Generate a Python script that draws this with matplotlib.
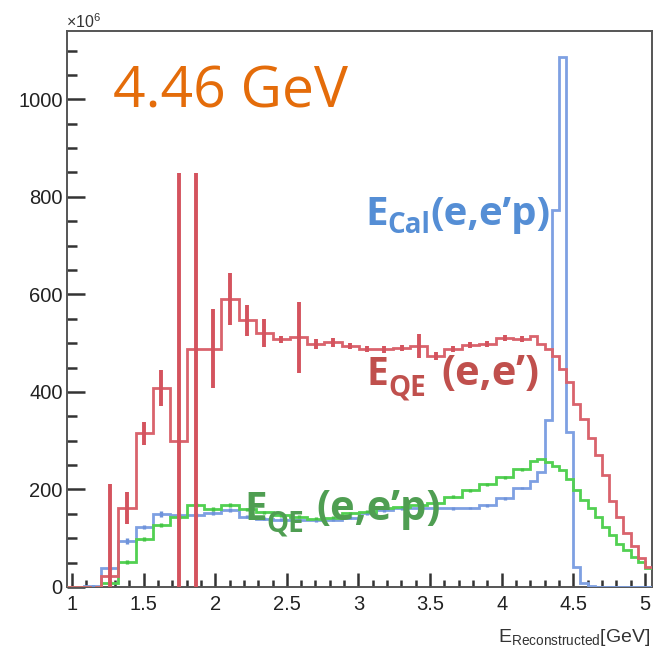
import numpy as np
import matplotlib
matplotlib.use("Agg")
import matplotlib.pyplot as plt
from matplotlib.ticker import MultipleLocator

plt.rcParams['font.family'] = ['Liberation Sans', 'DejaVu Sans']
plt.rcParams['mathtext.fontset'] = 'custom'
plt.rcParams['mathtext.rm'] = 'Liberation Sans'
plt.rcParams['mathtext.it'] = 'Liberation Sans'

# ---------------- data ----------------
# variable binning: coarse bins up to 4.2 GeV, fine 0.05 GeV bins above
coarse_edges = np.linspace(0.965, 4.2, 28)
fine_edges = np.linspace(4.2, 5.05, 18)
edges = np.concatenate([coarse_edges, fine_edges[1:]])

red_coarse = [0, 0, 22, 162, 315, 408, 300, 489, 489, 590, 547, 521, 508, 512,
              498, 502, 494, 488, 487, 490, 494, 473, 488, 496, 499, 510, 509]
red_fine = [514, 499, 487, 473, 447, 420, 375, 345, 305, 270, 230, 176, 144,
            110, 84, 60, 42]
red_err_lo = [0, 0, 22, 33, 23, 37, 300, 489, 80, 53, 32, 29, 7, 73, 10, 9, 7,
              7, 7, 7, 24, 8, 7, 6, 6, 6, 6]
red_err_hi = [0, 0, 190, 33, 23, 37, 549, 360, 80, 53, 32, 29, 7, 73, 10, 9, 7,
              7, 7, 7, 24, 8, 7, 6, 6, 6, 6]

blue_coarse = [0, 3, 38, 95, 123, 150, 147, 147, 152, 158, 144, 140, 138, 137,
               137, 138, 142, 151, 157, 161, 161, 161, 161, 162, 168, 182, 203]
blue_fine = [218, 235, 342, 773, 1087, 318, 41, 8, 3, 1, 1, 0, 0, 0, 0, 0, 0]
blue_err = [0, 2, 4, 6, 5, 6, 4, 4, 4, 4, 3, 3, 3, 3, 3, 3, 3, 3, 3, 3, 3, 3,
            3, 3, 3, 3, 3]

green_coarse = [0, 0, 8, 51, 99, 127, 144, 168, 160, 169, 159, 153, 147, 144,
                140, 142, 151, 154, 163, 164, 168, 172, 185, 198, 211, 225, 241]
green_fine = [258, 262, 256, 248, 239, 222, 198, 179, 161, 144, 123, 106, 89,
              75, 62, 51, 38]
green_err = [0, 0, 4, 4, 4, 4, 4, 4, 4, 4, 3, 3, 3, 3, 3, 3, 3, 3, 3, 3, 3, 3,
             3, 3, 3, 3, 3]

red_vals = np.array(red_coarse + red_fine, dtype=float)
blue_vals = np.array(blue_coarse + blue_fine, dtype=float)
green_vals = np.array(green_coarse + green_fine, dtype=float)
centers = 0.5 * (coarse_edges[:-1] + coarse_edges[1:])

# ---------------- figure ----------------
W, H = 656, 647
fig = plt.figure(figsize=(W / 100, H / 100), dpi=100)
ax = fig.add_axes([67 / W, 1 - 587 / H, 585 / W, 556 / H])

RED_L = '#D9636D'
RED_E = '#D4535E'
BLUE_L = '#7EA0E2'
GREEN_L = '#52D052'

ax.stairs(blue_vals, edges, baseline=None, color=BLUE_L, lw=2.0, zorder=3)
ax.stairs(green_vals, edges, baseline=None, color=GREEN_L, lw=2.0, zorder=3)
ax.stairs(red_vals, edges, baseline=None, color=RED_L, lw=2.0, zorder=4)

def ebar(vals, lo, hi, color, lw):
    v = np.array(vals, dtype=float)
    lo = np.array(lo, dtype=float)
    hi = np.array(hi, dtype=float)
    m = (lo + hi) > 0
    ax.errorbar(centers[m], v[m], yerr=[lo[m], hi[m]], fmt='none',
                ecolor=color, elinewidth=lw, capsize=0, zorder=5)

ebar(blue_coarse, blue_err, blue_err, '#6F93DA', 2.4)
ebar(green_coarse, green_err, green_err, '#45C545', 2.4)
ebar(red_coarse, red_err_lo, red_err_hi, RED_E, 2.8)

ax.set_xlim(0.965, 5.05)
ax.set_ylim(0, 1140)
ax.xaxis.set_minor_locator(MultipleLocator(0.1))
ax.yaxis.set_minor_locator(MultipleLocator(50))
ax.set_xticks([1, 1.5, 2, 2.5, 3, 3.5, 4, 4.5, 5])
ax.set_xticklabels(['1', '1.5', '2', '2.5', '3', '3.5', '4', '4.5', '5'])
ax.set_yticks([0, 200, 400, 600, 800, 1000])
ax.set_yticklabels(['0', '200', '400', '600', '800', '1000'])

ax.tick_params(axis='both', which='both', direction='in', top=False,
               right=False, color='#333333', width=1.8, labelsize=14.5,
               labelcolor='#222222')
ax.tick_params(axis='y', which='major', length=13, pad=3)
ax.tick_params(axis='y', which='minor', length=7)
ax.tick_params(axis='x', which='major', length=10, pad=6)
ax.tick_params(axis='x', which='minor', length=5)
for sp in ax.spines.values():
    sp.set_color('#555555')
    sp.set_linewidth(1.4)

# axis decorations
fig.text(66 / W, 1 - 28 / H, r'$\times10^{6}$', fontsize=11.5,
         color='#333333', ha='left', va='baseline')
fig.text(650 / W, 1 - 642 / H, r'E$_{\rm Reconstructed}$[GeV]', fontsize=14,
         color='#333333', ha='right', va='baseline')

# ---------------- annotations ----------------
fig.text(113 / W, 1 - 108 / H, '4.46 GeV', fontsize=41, color='#E46C0A',
         family=['Open Sans', 'DejaVu Sans'], ha='left', va='baseline',
         zorder=10)

renderer = fig.canvas.get_renderer()

def rich(x_px, base_px, parts, color):
    x = x_px
    for s, size, dy, gap in parts:
        t = fig.text(x / W, 1 - (base_px + dy) / H, s, fontsize=size,
                     color=color, family=['Open Sans', 'DejaVu Sans'],
                     weight='bold', ha='left', va='baseline', zorder=10)
        bb = t.get_window_extent(renderer)
        x = bb.x1 + gap

rich(365, 225, [('E', 29, 0, 0), ('Cal', 20, 8, 0), ('(e,e\u2019p)', 29, 0, 0)],
     '#558ED5')
rich(367, 385, [('E', 28, 0, 0), ('QE', 20, 11, 15), ('(e,e\u2019)', 30, 0, 0)],
     '#C0504D')
rich(244, 520, [('E', 29, 0, 0), ('QE', 20, 11, 12), ('(e,e\u2019p)', 30, 0, 0)],
     '#4F9E52')

fig.savefig('out.png', dpi=100)
